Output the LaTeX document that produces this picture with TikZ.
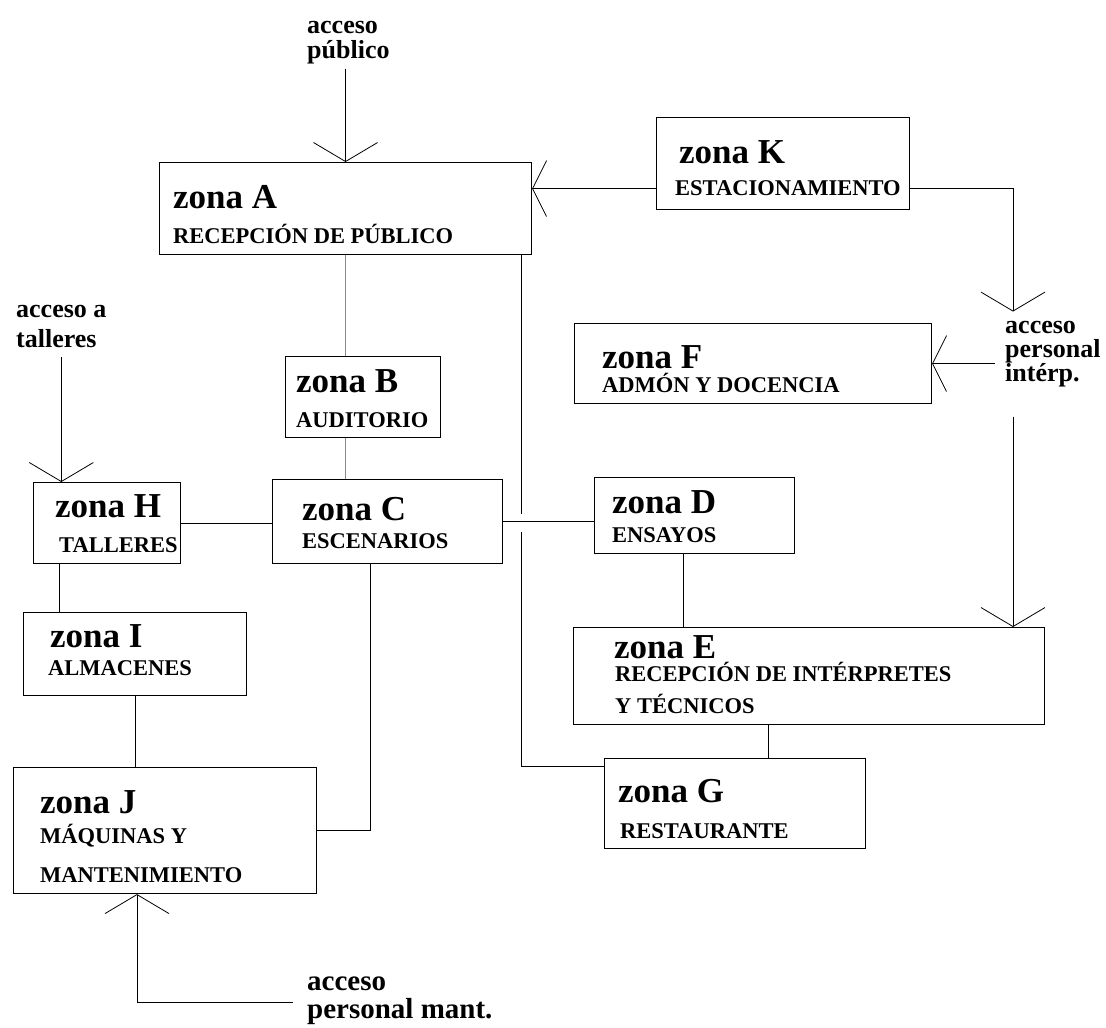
\documentclass[tikz,border=0pt]{standalone}
\usepackage{fontspec}
\setmainfont{Liberation Serif}
\usetikzlibrary{calc, arrows.meta, positioning}

\begin{document}
\begin{tikzpicture}[
    x=1pt, y=-1pt,
    zone/.style={draw=black, line width=1.1pt, inner sep=0pt, anchor=north west},
    zonetitle/.style={anchor=base west, inner sep=0pt, font=\fontsize{35}{35}\selectfont\bfseries},
    zonelabel/.style={anchor=base west, inner sep=0pt, font=\fontsize{22.5}{25}\selectfont\bfseries},
    accesstext/.style={anchor=base west, inner sep=0pt, align=left, font=\fontsize{26}{25}\selectfont\bfseries},
    link/.style={line width=0.9pt},
    faint/.style={line width=0.9pt, draw=black!45},
    arrow/.style={line width=0.9pt, -{Straight Barb[length=19pt, width=64pt, line width=0.8pt]}},
    sidearrow/.style={line width=0.9pt, -{Straight Barb[length=14pt, width=56pt, line width=0.8pt]}}
]
\useasboundingbox (0,0) rectangle (1106,1028);

% Zones
\node[zone, minimum width=372pt, minimum height=92pt] (A) at (159,162) {};
\node[zone, minimum width=253pt, minimum height=92pt] (K) at (656,117) {};
\node[zone, minimum width=357pt, minimum height=80pt] (F) at (574,323) {};
\node[zone, minimum width=155pt, minimum height=81pt] (B) at (285,356) {};
\node[zone, minimum width=147pt, minimum height=81pt] (H) at (33,482) {};
\node[zone, minimum width=230pt, minimum height=84pt] (C) at (272,479) {};
\node[zone, minimum width=200pt, minimum height=76pt] (D) at (594,477) {};
\node[zone, minimum width=223pt, minimum height=83pt] (I) at (23,612) {};
\node[zone, minimum width=303pt, minimum height=126pt] (J) at (13,767) {};
\node[zone, minimum width=471pt, minimum height=97pt] (E) at (573,627) {};
\node[zone, minimum width=261pt, minimum height=90pt] (G) at (604,758) {};

% Zone texts
\node[zonetitle] (tA) at (173,208) {zona A};
\node[zonelabel] (lA) at (173,243) {RECEPCIÓN DE PÚBLICO};
\node[zonetitle] (tK) at (679,163) {zona K};
\node[zonelabel] (lK) at (675,195) {ESTACIONAMIENTO};
\node[zonetitle] (tF) at (602,368) {zona F};
\node[zonelabel] (lF) at (602,392) {ADMÓN Y DOCENCIA};
\node[zonetitle] (tB) at (296,392) {zona B};
\node[zonelabel] (lB) at (296,427) {AUDITORIO};
\node[zonetitle] (tH) at (55,517) {zona H};
\node[zonelabel] (lH) at (59,552) {TALLERES};
\node[zonetitle] (tC) at (302,520) {zona C};
\node[zonelabel] (lC) at (302,548) {ESCENARIOS};
\node[zonetitle] (tD) at (612,513) {zona D};
\node[zonelabel] (lD) at (612,542) {ENSAYOS};
\node[zonetitle] (tI) at (50,647) {zona I};
\node[zonelabel] (lI) at (48,675) {ALMACENES};
\node[zonetitle] (tJ) at (40,813) {zona J};
\node[zonelabel] (lJa) at (40,843) {MÁQUINAS Y};
\node[zonelabel] (lJb) at (40,882) {MANTENIMIENTO};
\node[zonetitle] (tE) at (614,658) {zona E};
\node[zonelabel] (lEa) at (615,681) {RECEPCIÓN DE INTÉRPRETES};
\node[zonelabel] (lEb) at (615,713) {Y TÉCNICOS};
\node[zonetitle] (tG) at (618,802) {zona G};
\node[zonelabel] (lG) at (620,838) {RESTAURANTE};

% Accesses (base = last line)
\node[accesstext] (accP) at (307,58) {acceso\\público};
\node[accesstext, font=\fontsize{26}{30}\selectfont\bfseries] (accT) at (16,347) {acceso a\\talleres};
\node[accesstext, font=\fontsize{26}{24}\selectfont\bfseries] (accI) at (1005,381) {acceso\\personal\\intérp.};
\node[accesstext, font=\fontsize{29}{28}\selectfont\bfseries] (accM) at (307,1018) {acceso\\personal mant.};

% Helper points
\coordinate (kA) at ($(K.west)+(0,25)$);
\coordinate (kI) at ($(K.east)+(0,25)$);
\coordinate (pTop) at ($(accI.north west)+(8,-9)$);
\coordinate (pLeft) at ($(accI.west)+(-10,0)$);
\coordinate (pBot) at ($(accI.south west)+(8,30)$);
\coordinate (aR) at ($(A.south east)+(-11,0)$);
\coordinate (gL) at ($(G.north west)+(0,8)$);
\coordinate (hB) at ($(H.south west)+(26,0)$);
\coordinate (cB) at ($(C.south west)+(98,0)$);
\coordinate (dB) at ($(D.south west)+(89,0)$);
\coordinate (eB) at ($(E.south west)+(195,0)$);
\coordinate (mR) at ($(accM.west)+(-14,2)$);
\coordinate (jB) at ($(J.south west)+(124,0)$);

% Arrows
\draw[arrow, shorten <=5pt] (A.north |- accP.south) -- (A.north);
\draw[sidearrow] (kA) -- (kA -| A.east);
\draw[arrow] (kI) -| (pTop);
\draw[sidearrow] (F.east -| pLeft) -- (F.east);
\draw[arrow] (pBot) -- (pBot |- E.north);
\draw[arrow, shorten <=10pt] (accT.south) -- (accT.south |- H.north);
\draw[arrow] (mR) -| (jB);

% Links
\draw[faint] (A.south) -- (A.south |- B.north);
\draw[faint] (A.south |- B.south) -- (A.south |- C.north);
\draw[link] (aR) -- ($(aR |- C.east)+(0,-8)$);
\draw[link] ($(aR |- C.east)+(0,10)$) |- (gL);
\draw[link] (H.east) -- (H.east -| C.west);
\draw[link] (C.east) -- (C.east -| D.west);
\draw[link] (hB) -- (hB |- I.north);
\draw[link] (I.south) -- (I.south |- J.north);
\draw[link] (cB) |- (J.east);
\draw[link] (dB) -- (dB |- E.north);
\draw[link] (eB) -- (eB |- G.north);

\end{tikzpicture}
\end{document}
